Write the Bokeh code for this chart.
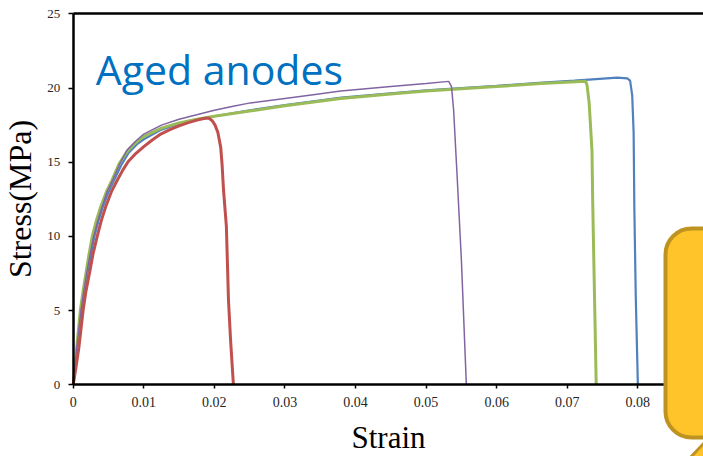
from bokeh.plotting import figure
from bokeh.models import (BoxAnnotation, PolyAnnotation, Label, LinearAxis,
                          FixedTicker, Range1d)
from bokeh.embed import file_html
from bokeh.resources import INLINE

# ---------------- data ----------------
x_ticks = [0, 0.01, 0.02, 0.03, 0.04, 0.05, 0.06, 0.07, 0.08]
x_tick_labels = ["0", "0.01", "0.02", "0.03", "0.04", "0.05", "0.06", "0.07", "0.08"]
y_ticks = [0, 5, 10, 15, 20, 25]

blue_strain = [0, 0.0006, 0.0012, 0.0016, 0.002, 0.0025, 0.003, 0.0036, 0.0042, 0.005,
               0.0058, 0.0068, 0.0078, 0.009, 0.010, 0.0125, 0.015, 0.0175, 0.020, 0.025,
               0.030, 0.038, 0.045, 0.050, 0.055, 0.060, 0.066, 0.071, 0.0771, 0.0785,
               0.0789, 0.0792, 0.0794, 0.0795, 0.0797, 0.0800]
blue_stress = [0, 2.5, 5, 6.3, 7.5, 8.8, 10, 11.1, 12, 13,
               13.8, 14.8, 15.6, 16.2, 16.55, 17.2, 17.6, 17.9, 18.1, 18.5,
               18.85, 19.35, 19.65, 19.85, 20.0, 20.15, 20.35, 20.5, 20.7, 20.65,
               20.5, 19.5, 17, 12, 6, 0]

green_strain = [0, 0.0005, 0.001, 0.0014, 0.0018, 0.0022, 0.0027, 0.0033, 0.0039, 0.0047,
                0.0055, 0.0065, 0.0076, 0.0088, 0.010, 0.0125, 0.015, 0.0175, 0.020, 0.025,
                0.030, 0.0379, 0.045, 0.050, 0.055, 0.060, 0.0662, 0.0726, 0.0728, 0.0731,
                0.0735, 0.0736, 0.0741]
green_stress = [0, 2.5, 5, 6.3, 7.5, 8.7, 10, 11.1, 12, 13,
                13.8, 14.9, 15.7, 16.3, 16.75, 17.3, 17.65, 17.9, 18.1, 18.45,
                18.8, 19.3, 19.6, 19.8, 19.95, 20.1, 20.3, 20.45, 20.2, 19,
                15.8, 12.4, 0]

purple_strain = [0, 0.0005, 0.0011, 0.0015, 0.0019, 0.0024, 0.0029, 0.0035, 0.0041, 0.0048,
                 0.0056, 0.0066, 0.0076, 0.0088, 0.010, 0.0125, 0.015, 0.0175, 0.020, 0.0225,
                 0.0251, 0.030, 0.034, 0.0379, 0.045, 0.050, 0.0532, 0.0536, 0.0539, 0.0544,
                 0.055, 0.0557]
purple_stress = [0, 2.5, 5, 6.3, 7.5, 8.8, 10, 11.1, 12, 13,
                 13.8, 14.9, 15.8, 16.4, 16.9, 17.5, 17.9, 18.2, 18.5, 18.75,
                 19.0, 19.3, 19.55, 19.8, 20.1, 20.3, 20.45, 20.1, 18.5, 14.0,
                 8.4, 0]

red_strain = [0, 0.0004, 0.0008, 0.0014, 0.0018, 0.0023, 0.0028, 0.0034, 0.004, 0.0046,
              0.0054, 0.0062, 0.007, 0.0078, 0.0089, 0.010, 0.0112, 0.0124, 0.0137, 0.015,
              0.0162, 0.0174, 0.0185, 0.0192, 0.0197, 0.0201, 0.0205, 0.0209, 0.0211, 0.0213,
              0.0217, 0.022, 0.0223, 0.0227]
red_stress = [0, 1.2, 2.5, 5, 6.3, 7.5, 8.8, 10, 11.1, 12,
              13, 13.75, 14.45, 15.05, 15.6, 16.05, 16.5, 16.9, 17.2, 17.45,
              17.65, 17.82, 17.95, 17.98, 17.8, 17.5, 17.0, 16.0, 14.8, 13.1,
              10.7, 5.7, 3.0, 0]

title_text = "Aged anodes"
x_label = "Strain"
y_label = "Stress(MPa)"

X_MAX = 0.0893
Y_MAX = 25

# ---------------- figure ----------------
# The frame covers the whole page; the axes sit at fixed data locations so
# the overlapping call-out box (outside the chart area) can be drawn unclipped.
p = figure(width=703, height=456, output_backend="svg", toolbar_location=None,
           x_range=Range1d(-0.0103, X_MAX), y_range=Range1d(-4.83, 25.9),
           min_border=0, x_axis_location=None, y_axis_location=None)
p.outline_line_color = None
p.xgrid.grid_line_color = None
p.ygrid.grid_line_color = None
p.background_fill_color = "white"
p.border_fill_color = "white"

serif = "Liberation Serif"

xa = LinearAxis(fixed_location=0, bounds=(0, X_MAX))
xa.ticker = FixedTicker(ticks=x_ticks)
xa.major_label_overrides = {t: l for t, l in zip(x_ticks, x_tick_labels)}
xa.minor_tick_line_color = None
xa.major_tick_in = 0
xa.major_tick_out = 4
xa.major_tick_line_width = 1.5
xa.axis_line_width = 2.5
xa.axis_line_color = "black"
xa.major_label_text_font = serif
xa.major_label_text_font_size = "14px"
xa.major_label_text_color = "#262626"
xa.major_label_standoff = 8
xa.axis_label = x_label
xa.axis_label_text_font = serif
xa.axis_label_text_font_size = "31px"
xa.axis_label_text_font_style = "normal"
xa.axis_label_text_color = "black"
xa.axis_label_standoff = 10
p.add_layout(xa, "below")

ya = LinearAxis(fixed_location=0, bounds=(0, Y_MAX))
ya.ticker = FixedTicker(ticks=y_ticks)
ya.minor_tick_line_color = None
ya.major_tick_in = 0
ya.major_tick_out = 5
ya.major_tick_line_width = 1.5
ya.axis_line_width = 2.5
ya.axis_line_color = "black"
ya.major_label_text_font = serif
ya.major_label_text_font_size = "13px"
ya.major_label_text_color = "#262626"
ya.major_label_standoff = 8
ya.axis_label = y_label
ya.axis_label_text_font = serif
ya.axis_label_text_font_size = "32px"
ya.axis_label_text_font_style = "normal"
ya.axis_label_text_color = "black"
ya.axis_label_standoff = 7
p.add_layout(ya, "left")

top = LinearAxis(fixed_location=Y_MAX, bounds=(0, X_MAX),
                 ticker=FixedTicker(ticks=[]), axis_line_width=2.5,
                 axis_line_color="black", major_tick_line_color=None,
                 minor_tick_line_color=None, major_label_text_font_size="0px")
p.add_layout(top, "above")

# curves
p.line(blue_strain, blue_stress, line_color="#4F81BD", line_width=2.2)
p.line(green_strain, green_stress, line_color="#9BBB59", line_width=3)
p.line(purple_strain, purple_stress, line_color="#8064A2", line_width=1.5)
p.line(red_strain, red_stress, line_color="#C0504D", line_width=3)

# title text
p.add_layout(Label(x=0.0032, y=21.3, text=title_text, text_font="Open Sans",
                   text_font_size="41px", text_color="#0070C0",
                   text_baseline="alphabetic"))

# yellow call-out box (overlapping bottom-right)
p.add_layout(BoxAnnotation(left=665, right=770, top=228, bottom=437,
                           left_units="canvas", right_units="canvas",
                           top_units="canvas", bottom_units="canvas",
                           fill_color="#FEC42A", fill_alpha=1,
                           line_color="#BF9320", line_alpha=1, line_width=4,
                           border_radius=26))
p.add_layout(PolyAnnotation(xs=[689, 705, 705], ys=[458, 441, 458],
                            xs_units="canvas", ys_units="canvas",
                            fill_color="#FEC42A", fill_alpha=1,
                            line_color="#BF9320", line_alpha=1, line_width=3))

open("out.html", "w").write(file_html(p, INLINE))
